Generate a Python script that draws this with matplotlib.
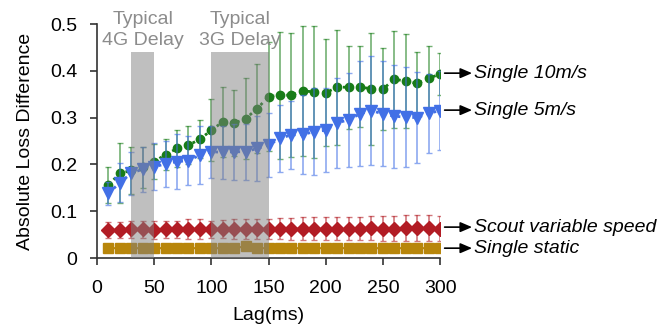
import matplotlib
matplotlib.use("Agg")
import matplotlib.pyplot as plt

plt.rcParams['font.family'] = ['Liberation Sans', 'DejaVu Sans']

lag = [10, 20, 30, 40, 50, 60, 70, 80, 90, 100,
       110, 120, 130, 140, 150, 160, 170, 180, 190, 200,
       210, 220, 230, 240, 250, 260, 270, 280, 290, 300]

# Single 10m/s
fast = [0.156, 0.181, 0.187, 0.194, 0.206, 0.221, 0.234, 0.241, 0.254, 0.273,
        0.291, 0.288, 0.298, 0.319, 0.345, 0.348, 0.348, 0.357, 0.355, 0.353,
        0.365, 0.365, 0.366, 0.361, 0.361, 0.382, 0.378, 0.373, 0.384, 0.393]
fast_err = [0.038, 0.064, 0.050, 0.044, 0.038, 0.034, 0.040, 0.041, 0.041, 0.066,
            0.075, 0.071, 0.087, 0.095, 0.117, 0.136, 0.133, 0.139, 0.141, 0.114,
            0.123, 0.089, 0.087, 0.120, 0.088, 0.104, 0.100, 0.067, 0.068, 0.044]

# Single 5m/s
slow = [0.138, 0.161, 0.181, 0.190, 0.195, 0.201, 0.206, 0.208, 0.220, 0.227,
        0.226, 0.227, 0.227, 0.234, 0.241, 0.256, 0.263, 0.264, 0.270, 0.273,
        0.289, 0.295, 0.308, 0.315, 0.308, 0.303, 0.301, 0.300, 0.309, 0.315]
slow_err = [0.025, 0.041, 0.046, 0.048, 0.050, 0.049, 0.058, 0.053, 0.062, 0.055,
            0.057, 0.060, 0.060, 0.070, 0.068, 0.072, 0.073, 0.084, 0.093, 0.090,
            0.096, 0.100, 0.112, 0.117, 0.112, 0.110, 0.107, 0.097, 0.085, 0.085]

# Scout variable speed
scout = [0.060, 0.060, 0.061, 0.061, 0.060, 0.061, 0.061, 0.062, 0.062, 0.061,
         0.062, 0.062, 0.062, 0.062, 0.062, 0.063, 0.062, 0.063, 0.063, 0.063,
         0.063, 0.063, 0.063, 0.064, 0.063, 0.063, 0.064, 0.064, 0.064, 0.063]
scout_err = [0.018, 0.018, 0.019, 0.019, 0.019, 0.019, 0.019, 0.021, 0.021, 0.019,
             0.020, 0.021, 0.021, 0.021, 0.022, 0.023, 0.023, 0.024, 0.024, 0.024,
             0.025, 0.025, 0.025, 0.026, 0.026, 0.027, 0.027, 0.027, 0.028, 0.027]

# Single static
static = [0.021, 0.021, 0.021, 0.021, 0.021, 0.021, 0.021, 0.021, 0.021, 0.021,
          0.021, 0.021, 0.025, 0.021, 0.021, 0.021, 0.021, 0.021, 0.021, 0.021,
          0.021, 0.021, 0.021, 0.021, 0.021, 0.021, 0.021, 0.021, 0.021, 0.021]
static_err = [0.003] * 30

labels = ["Single 10m/s", "Single 5m/s", "Scout variable speed", "Single static"]
label_y = [0.395, 0.316, 0.066, 0.021]
spans = [(30, 50, "Typical\n4G Delay"), (100, 150, "Typical\n3G Delay")]

fig = plt.figure(figsize=(6.71, 3.29), dpi=100)
ax = fig.add_axes([0.1446, 0.2158, 0.5112, 0.7112])

green = '#187c18'
blue = '#4270e6'
red = '#b21c24'
gold = '#b8860b'

ax.errorbar(lag, static, yerr=static_err, color=gold, marker='s', ms=7.5,
            lw=1.5, ls='-', capsize=2, elinewidth=1, ecolor=gold, zorder=3)
ax.errorbar(lag, scout, yerr=scout_err, color=red, marker='D', ms=7.5,
            lw=1.5, ls=':', capsize=2.5, elinewidth=1.2, ecolor=(0.7, 0.11, 0.14, 0.6),
            zorder=3)
ax.errorbar(lag, fast, yerr=fast_err, color=green, marker='o', ms=6,
            lw=2, ls=':', capsize=2, elinewidth=1.2, ecolor=(0.09, 0.49, 0.09, 0.6),
            zorder=3)
ax.errorbar(lag, slow, yerr=slow_err, color=blue, marker='v', ms=9,
            lw=2, ls=':', capsize=2, elinewidth=1.2, ecolor=(0.26, 0.44, 0.9, 0.6),
            zorder=4)

for x0, x1, txt in spans:
    ax.axvspan(x0, x1, ymin=0, ymax=0.44 / 0.5, color='gray', alpha=0.5,
               lw=0, zorder=10)
    ax.text((x0 + x1) / 2, 0.447, txt, ha='center', va='bottom', fontsize=14,
            color='#8c8c8c', linespacing=1.3, clip_on=False)

for txt, yv in zip(labels, label_y):
    ax.annotate('', xy=(328, yv), xytext=(304, yv), annotation_clip=False,
                arrowprops=dict(arrowstyle='-|>,head_length=0.7,head_width=0.3',
                                color='black', lw=1.2, shrinkA=0, shrinkB=0))
    ax.text(330, yv, txt, fontsize=14, style='italic', va='center', ha='left',
            clip_on=False)

ax.set_xlim(0, 300)
ax.set_ylim(0, 0.5)
ax.set_xticks([0, 50, 100, 150, 200, 250, 300])
ax.set_yticks([0, 0.1, 0.2, 0.3, 0.4, 0.5])
ax.set_yticklabels(['0', '0.1', '0.2', '0.3', '0.4', '0.5'])
ax.tick_params(labelsize=14, direction='out', length=5, width=1.2, color='#333333')
ax.tick_params(axis='x', pad=11)
ax.tick_params(axis='y', pad=9)
ax.spines['top'].set_visible(False)
ax.spines['right'].set_visible(False)
for s in ['left', 'bottom']:
    ax.spines[s].set_linewidth(1.2)
    ax.spines[s].set_color('#333333')

ax.set_xlabel('Lag(ms)', fontsize=14, labelpad=7)
ax.set_ylabel('Absolute Loss Difference', fontsize=14, labelpad=12)

fig.savefig('out.png', dpi=100)
